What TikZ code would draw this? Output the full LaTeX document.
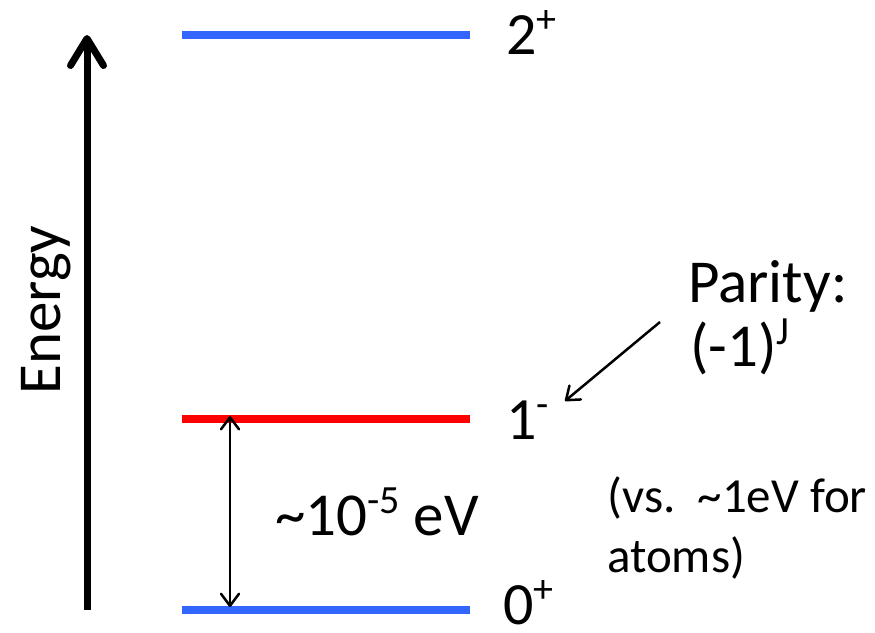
\documentclass[tikz,border=0pt]{standalone}
\usepackage{fontspec}
\setmainfont{Carlito}
\usetikzlibrary{arrows.meta}
\definecolor{lvlblue}{RGB}{51,102,255}
\definecolor{lvlred}{RGB}{255,0,0}
\newcommand\bigf{\fontsize{61}{72}\selectfont}
\newcommand\lvlf{\fontsize{60}{72}\selectfont}
\newcommand\smlf{\fontsize{49}{60}\selectfont}
\newcommand\supf[1]{\raisebox{0.36em}{\fontsize{40}{42}\selectfont #1}}
\tikzset{
  level/.style={line width=8pt},
  lbl/.style={anchor=base west, inner sep=0pt, font=\bigf},
  lvllbl/.style={anchor=base west, inner sep=0pt, font=\lvlf},
  sml/.style={anchor=base west, inner sep=0pt, font=\smlf},
  axisarrow/.style={line width=7pt, -{Straight Barb[length=27pt,width=33pt,round]}},
  thinarrow/.style={line width=2.5pt, -{Straight Barb[length=12pt,width=18pt,round]}},
  dblarrow/.style={line width=2.5pt, {Straight Barb[length=12pt,width=18pt,round]}-{Straight Barb[length=12pt,width=18pt,round]}}
}
\begin{document}
\begin{tikzpicture}[x=1pt,y=-1pt]
\useasboundingbox (0,0) rectangle (875,632);
\fill[white] (0,0) rectangle (875,632);
% energy axis
\coordinate (eb) at (87,610);
\coordinate (et) at (87,35);
\draw[axisarrow] (eb) -- (et);
\node[rotate=90, anchor=base, inner sep=0pt, font=\bigf] (elab) at (60,310) {Energy};
% levels
\coordinate (l2a) at (182,35);  \coordinate (l2b) at (470,35);
\coordinate (l1a) at (182,419); \coordinate (l1b) at (470,419);
\coordinate (l0a) at (182,610); \coordinate (l0b) at (470,610);
\draw[level, lvlblue] (l2a) -- (l2b);
\draw[level, lvlred] (l1a) -- (l1b);
\draw[level, lvlblue] (l0a) -- (l0b);
% level labels
\node[lvllbl] (t2) at (506,54) {2\supf{+}};
\node[lvllbl] (t1) at (506,439) {1\supf{-}};
\node[lvllbl] (t0) at (503,624) {0\supf{+}};
% gap
\coordinate (da) at (230,416);
\coordinate (db) at (230,607);
\draw[dblarrow] (da) -- (db);
\node[lbl] (gap) at (275,535) {\textasciitilde10\supf{-5} eV};
% parity
\node[lbl] (par) at (688,302) {Parity:};
\node[lbl] (pj) at (690,366) {(-1)\supf{J}};
\coordinate (pa) at (660,322);
\coordinate (pb) at (565,401);
\draw[thinarrow] (pa) -- (pb);
% comparison
\node[sml] (vs) at (607,512) {(vs.\ \ \textasciitilde1eV for};
\node[sml] (at) at (607,572) {atoms)};
\end{tikzpicture}
\end{document}
